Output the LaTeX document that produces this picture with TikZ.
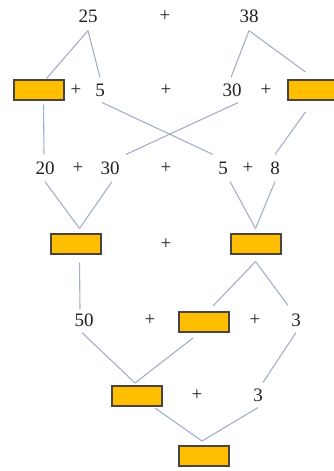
\documentclass[tikz,border=0pt]{standalone}
\usepackage{fontspec}
\setmainfont{Liberation Serif}
\usetikzlibrary{calc}
\definecolor{boxfill}{HTML}{FFBE00}
\definecolor{boxline}{HTML}{4A4440}
\definecolor{linkc}{HTML}{A2AECB}
\definecolor{txt}{HTML}{202020}
\tikzset{
  ansbox/.style={draw=boxline, fill=boxfill, line width=2pt, minimum width=50pt, minimum height=20pt, inner sep=0pt},
  num/.style={inner sep=0pt, text=txt, font=\fontsize{19}{19}\selectfont},
  link/.style={draw=linkc, line width=1.1pt}
}
\begin{document}
\begin{tikzpicture}[x=1pt,y=-1pt]
\useasboundingbox (0,0) rectangle (334,471);
% row 1
\node[num] (n25) at (88,16) {25};
\node[num] (p1) at (165,16) {+};
\node[num] (n38) at (249,16) {38};
% row 2
\node[ansbox] (b1) at (38.5,89.5) {};
\node[num] (p2a) at (76,90) {+};
\node[num] (n5a) at (100,90) {5};
\node[num] (p2b) at (166,90) {+};
\node[num] (n30a) at (232,90) {30};
\node[num] (p2c) at (266,90) {+};
\node[ansbox] (b2) at (312.5,90) {};
% row 3
\node[num] (n20) at (45,168) {20};
\node[num] (p3a) at (78,168) {+};
\node[num] (n30b) at (110,168) {30};
\node[num] (p3b) at (166,168) {+};
\node[num] (n5b) at (223,168) {5};
\node[num] (p3c) at (248,168) {+};
\node[num] (n8) at (275,168) {8};
% row 4
\node[ansbox] (b3) at (75.5,243.5) {};
\node[num] (p4) at (166,244) {+};
\node[ansbox] (b4) at (255.5,243.5) {};
% row 5
\node[num] (n50) at (84,320) {50};
\node[num] (p5a) at (150,320) {+};
\node[ansbox] (b5) at (204,322) {};
\node[num] (p5b) at (255,320) {+};
\node[num] (n3a) at (296,320) {3};
% row 6
\node[ansbox] (b6) at (137,396) {};
\node[num] (p6) at (197,395) {+};
\node[num] (n3b) at (258,395) {3};
% row 7
\node[ansbox] (b7) at (204,456) {};
% links
\draw[link] ($(n25.south)+(0,8)$) -- ($(b1.north)+(8,0)$);
\draw[link] ($(n25.south)+(0,8)$) -- ($(n5a.north)+(0,-6)$);
\draw[link] ($(n38.south)+(0,8)$) -- ($(n30a.north)+(-1,-6)$);
\draw[link] ($(n38.south)+(0,8)$) -- ($(b2.north)+(-7,-7)$);
\draw[link] ($(b1.south)+(5,4)$) -- ($(n20.north)+(-1,-7)$);
\draw[link] ($(n5a.south)+(2,6)$) -- ($(n5b.north)+(-10,-7)$);
\draw[link] ($(n30a.south)+(6,6)$) -- ($(n30b.north)+(16,-7)$);
\draw[link] ($(b2.south)+(-7,11)$) -- ($(n8.north)+(0,-7)$);
\draw[link] ($(n20.south)+(0,7)$) -- ($(b3.north)+(4,-4)$);
\draw[link] ($(n30b.south)+(2,7)$) -- ($(b3.north)+(4,-4)$);
\draw[link] ($(n5b.south)+(7,7)$) -- ($(b4.north)+(0,-4)$);
\draw[link] ($(n8.south)+(0,7)$) -- ($(b4.north)+(0,-4)$);
\draw[link] ($(b3.south)+(4,8)$) -- ($(n50.north)+(-4,-4)$);
\draw[link] ($(b4.south)+(0,7)$) -- ($(b5.north)+(9,-5)$);
\draw[link] ($(b4.south)+(0,7)$) -- ($(n3a.north)+(-8,-8)$);
\draw[link] ($(n50.south)+(-2,6)$) -- ($(b6.north)+(-2,-2)$);
\draw[link] ($(b5.south)+(-11,5)$) -- ($(b6.north)+(-2,-2)$);
\draw[link] ($(n3a.south)+(0,6)$) -- ($(n3b.north)+(5,-6)$);
\draw[link] ($(b6.south)+(18,1)$) -- ($(b7.north)+(-2,-4)$);
\draw[link] ($(n3b.south)+(0,6)$) -- ($(b7.north)+(-2,-4)$);
\end{tikzpicture}
\end{document}
